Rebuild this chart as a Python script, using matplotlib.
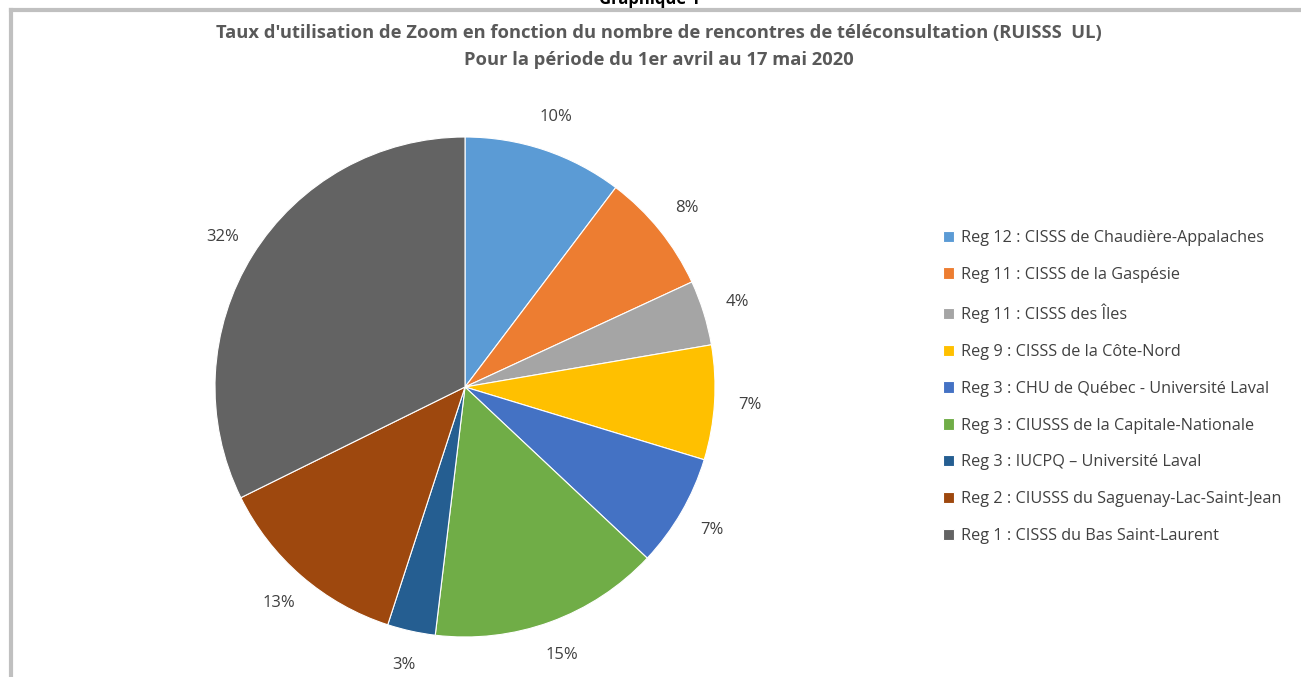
import matplotlib.pyplot as plt
from matplotlib.lines import Line2D

plt.rcParams['font.family'] = ['Open Sans', 'DejaVu Sans']

regions = [
    "Reg 12 : CISSS de Chaudière-Appalaches",
    "Reg 11 : CISSS de la Gaspésie",
    "Reg 11 : CISSS des Îles",
    "Reg 9 : CISSS de la Côte-Nord",
    "Reg 3 : CHU de Québec - Université Laval",
    "Reg 3 : CIUSSS de la Capitale-Nationale",
    "Reg 3 : IUCPQ – Université Laval",
    "Reg 2 : CIUSSS du Saguenay-Lac-Saint-Jean",
    "Reg 1 : CISSS du Bas Saint-Laurent",
]
parts = [10.3, 7.8, 4.2, 7.4, 7.3, 14.9, 3.1, 12.7, 32.3]
colors = ['#5B9BD5', '#ED7D31', '#A5A5A5', '#FFC000', '#4472C4',
          '#70AD47', '#255E91', '#9E480E', '#636363']

W, H = 1301, 677
fig = plt.figure(figsize=(W / 100, H / 100), dpi=100)

# pie box in pixels: centre (465, 387), radius 250
cx, cy, r = 465, 387, 250
ax = fig.add_axes([(cx - r) / W, (H - cy - r) / H, 2 * r / W, 2 * r / H])
wedges, _, pct = ax.pie(parts, colors=colors, startangle=90, counterclock=False,
                        autopct='%.0f%%', pctdistance=1.14,
                        wedgeprops=dict(edgecolor='white', linewidth=0.8),
                        textprops=dict(fontsize=12, color='#404040'))
ax.set_xlim(-1, 1)
ax.set_ylim(-1, 1)
ax.set_aspect('equal')

# grey frame (top and left only visible)
fig.add_artist(Line2D([11 / W, 1], [1 - 10 / H, 1 - 10 / H], color='#C0C0C0', lw=3))
fig.add_artist(Line2D([11 / W, 11 / W], [0, 1 - 10 / H], color='#C0C0C0', lw=3))

# page caption above the chart, partly cut by the crop
fig.text(650 / W, 1 + 1 / H, "Graphique 1", ha='center', va='center',
         fontsize=12, fontweight='bold', color='black')
fig.text(659 / W, 1 - 33 / H,
         "Taux d'utilisation de Zoom en fonction du nombre de rencontres de téléconsultation (RUISSS  UL)",
         ha='center', va='center', fontsize=13.2, fontweight='bold', color='#595959')
fig.text(659 / W, 1 - 60 / H, "Pour la période du 1er avril au 17 mai 2020",
         ha='center', va='center', fontsize=13.2, fontweight='bold', color='#595959')

fig.legend(wedges, regions, loc='center left', bbox_to_anchor=(928 / W, 1 - 387 / H),
           frameon=False, fontsize=11.7, labelcolor='#404040', handlelength=0.7,
           handleheight=0.7, handletextpad=0.4, labelspacing=1.28)

fig.savefig('out.png', dpi=100)
